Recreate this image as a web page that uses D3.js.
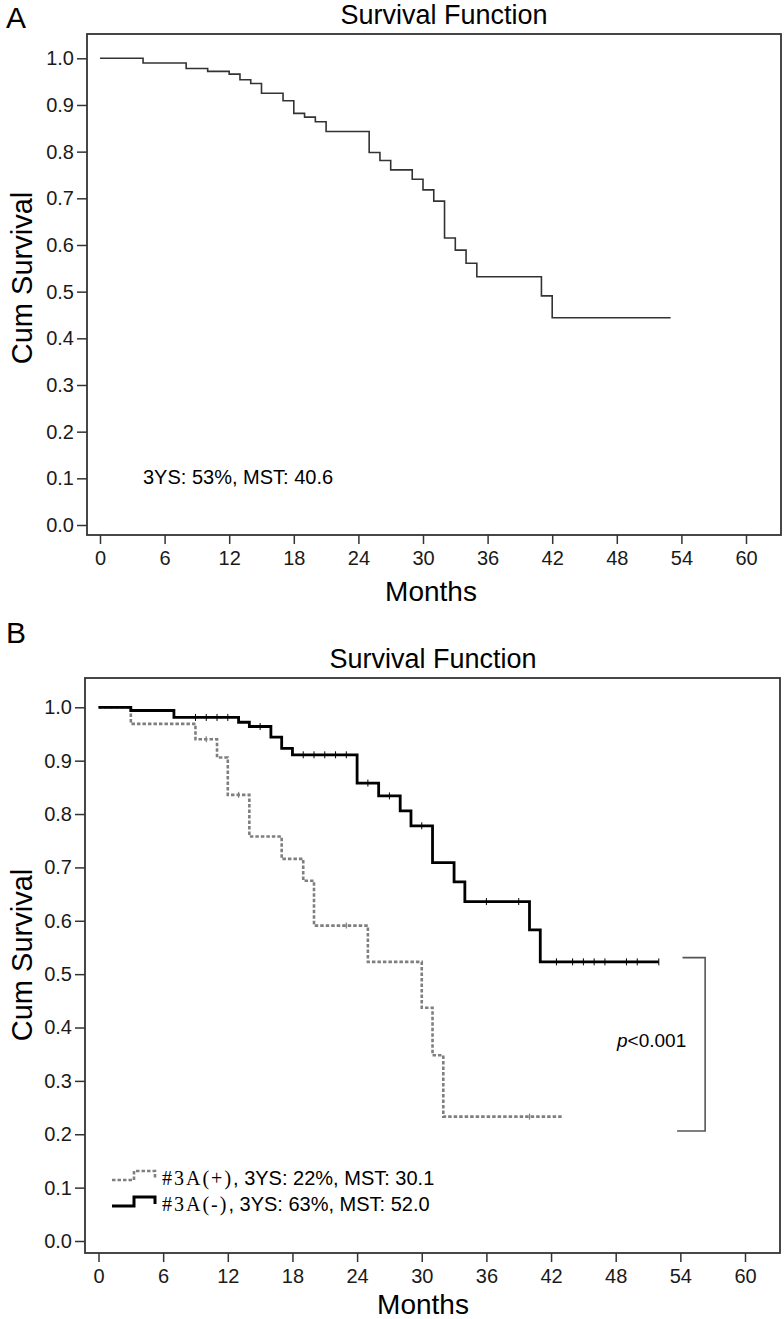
<!DOCTYPE html>
<html>
<head>
<meta charset="utf-8">
<script src="https://cdn.jsdelivr.net/npm/d3@7.9.0/dist/d3.min.js"></script>
<style>
  html, body { margin: 0; padding: 0; background: #fff; }
  svg { display: block; font-family: "Liberation Sans", Arial, sans-serif; }
  .tick text { font-size: 20px; fill: #1a1a1a; }
  .tick line { stroke: #333; stroke-width: 1.5; }
</style>
</head>
<body>
<svg id="chart" width="784" height="1319"></svg>
<script>
// ---- data ----
const monthTicks = [0, 6, 12, 18, 24, 30, 36, 42, 48, 54, 60];
const survTicks  = [0, 0.1, 0.2, 0.3, 0.4, 0.5, 0.6, 0.7, 0.8, 0.9, 1.0];

// panel A: all patients
const monthsA = [0, 4, 8, 10, 12, 13, 14, 15, 17, 18, 19, 20, 21, 25, 26, 27, 29, 30, 31, 32, 33, 34, 35, 41, 42];
const survA   = [1.000, 0.990, 0.978, 0.972, 0.966, 0.954, 0.946, 0.925, 0.909, 0.882, 0.874, 0.864, 0.843,
                 0.798, 0.781, 0.761, 0.741, 0.718, 0.694, 0.615, 0.589, 0.561, 0.532, 0.491, 0.444];
const endA = 53;

// panel B: #3A(-)
const monthsNeg = [0, 3, 7, 13, 14, 16, 17, 18, 24, 26, 28, 29, 31, 33, 34, 40, 41];
const survNeg   = [1.000, 0.994, 0.981, 0.972, 0.964, 0.944, 0.923, 0.911, 0.858, 0.834, 0.806, 0.778,
                   0.709, 0.673, 0.636, 0.583, 0.523];
const censorNeg = [9, 10, 11, 12, 15, 19, 20, 21, 22, 23, 25, 27, 30, 36, 39, 42.5, 44, 45, 46, 47, 49, 50, 52];
const endNeg = 52;

// panel B: #3A(+)
const monthsPos = [0, 3, 9, 11, 12, 14, 17, 19, 20, 25, 30, 31, 32];
const survPos   = [1.000, 0.969, 0.940, 0.906, 0.836, 0.758, 0.716, 0.675, 0.591, 0.523, 0.437, 0.348, 0.233];
const censorPos = [10, 13, 23, 40];
const endPos = 43;

const bracketX = [53.7, 54.2, 56.3];
const bracketY = [0.531, 0.206];

const svg = d3.select('#chart');

function stepPoints(months, surv, end) {
  const pts = months.map((m, i) => [m, surv[i]]);
  pts.push([end, surv[surv.length - 1]]);
  return pts;
}

function survAt(months, surv, t) {
  let s = surv[0];
  months.forEach((m, i) => { if (m <= t) s = surv[i]; });
  return s;
}

function drawPanel(cfg) {
  const { frame, xr, yr } = cfg;
  const x = d3.scaleLinear().domain([0, 60]).range(xr);
  const y = d3.scaleLinear().domain([0, 1]).range(yr);
  const g = svg.append('g');

  // x axis
  g.append('g')
    .attr('transform', `translate(0, ${frame.bottom})`)
    .call(d3.axisBottom(x).tickValues(monthTicks).tickSize(9).tickPadding(7).tickFormat(d3.format('d')))
    .call(a => a.select('.domain').remove());

  // y axis
  g.append('g')
    .attr('transform', `translate(${frame.left}, 0)`)
    .call(d3.axisLeft(y).tickValues(survTicks).tickSize(10).tickPadding(3).tickFormat(d3.format('.1f')))
    .call(a => a.select('.domain').remove());

  // frame
  g.append('rect')
    .attr('x', frame.left).attr('y', frame.top)
    .attr('width', frame.right - frame.left)
    .attr('height', frame.bottom - frame.top)
    .attr('fill', 'none').attr('stroke', '#333').attr('stroke-width', 1.8);

  // panel letter + title
  g.append('text')
    .attr('x', cfg.letterPos[0]).attr('y', cfg.letterPos[1])
    .attr('font-size', 30).text(cfg.letter);
  g.append('text')
    .attr('x', cfg.titleX).attr('y', frame.top - 10)
    .attr('text-anchor', 'middle').attr('font-size', 27)
    .text('Survival Function');

  // axis titles
  g.append('text')
    .attr('transform', `translate(32, ${cfg.ylabY}) rotate(-90)`)
    .attr('text-anchor', 'middle').attr('font-size', 29)
    .text('Cum Survival');
  g.append('text')
    .attr('x', cfg.xlabX).attr('y', cfg.xlabY)
    .attr('text-anchor', 'middle').attr('font-size', 28)
    .text('Months');

  return { g, x, y };
}

const line = (x, y) => d3.line().x(d => x(d[0])).y(d => y(d[1])).curve(d3.curveStepAfter);

// ---- panel A ----
{
  const { g, x, y } = drawPanel({
    frame: { left: 87, top: 34, right: 781, bottom: 535 },
    xr: [100, 746], yr: [525, 58.3],
    letter: 'A', letterPos: [6, 28], titleX: 444,
    ylabY: 278, xlabX: 431, xlabY: 601
  });
  g.append('path')
    .datum(stepPoints(monthsA, survA, endA))
    .attr('d', line(x, y))
    .attr('fill', 'none').attr('stroke', '#333').attr('stroke-width', 1.6);
  g.append('text')
    .attr('x', 143).attr('y', 484).attr('font-size', 20)
    .text('3YS: 53%, MST: 40.6');
}

// ---- panel B ----
{
  const { g, x, y } = drawPanel({
    frame: { left: 85, top: 678, right: 780, bottom: 1253 },
    xr: [98.5, 745], yr: [1241, 707.3],
    letter: 'B', letterPos: [6, 643], titleX: 433,
    ylabY: 955, xlabX: 423, xlabY: 1314
  });

  // #3A(+) dashed grey
  g.append('path')
    .datum(stepPoints(monthsPos, survPos, endPos))
    .attr('d', line(x, y))
    .attr('fill', 'none').attr('stroke', '#7f7f7f').attr('stroke-width', 2.6)
    .attr('stroke-dasharray', '3.5,2');
  g.append('g').selectAll('line')
    .data(censorPos)
    .join('line')
    .attr('x1', d => x(d)).attr('x2', d => x(d))
    .attr('y1', d => y(survAt(monthsPos, survPos, d)) - 3)
    .attr('y2', d => y(survAt(monthsPos, survPos, d)) + 3)
    .attr('stroke', '#7f7f7f').attr('stroke-width', 1.2);

  // #3A(-) solid black
  g.append('path')
    .datum(stepPoints(monthsNeg, survNeg, endNeg))
    .attr('d', line(x, y))
    .attr('fill', 'none').attr('stroke', '#000').attr('stroke-width', 2.8);
  g.append('g').selectAll('line')
    .data(censorNeg)
    .join('line')
    .attr('x1', d => x(d)).attr('x2', d => x(d))
    .attr('y1', d => y(survAt(monthsNeg, survNeg, d)) - 3.5)
    .attr('y2', d => y(survAt(monthsNeg, survNeg, d)) + 3.5)
    .attr('stroke', '#000').attr('stroke-width', 1);

  // p-value bracket
  g.append('path')
    .attr('d', d3.line()([
      [x(bracketX[1]), y(bracketY[0])],
      [x(bracketX[2]), y(bracketY[0])],
      [x(bracketX[2]), y(bracketY[1])],
      [x(bracketX[0]), y(bracketY[1])]
    ]))
    .attr('fill', 'none').attr('stroke', '#555').attr('stroke-width', 1.6);
  const pt = g.append('text').attr('x', 617).attr('y', 1047).attr('font-size', 19);
  pt.append('tspan').attr('font-style', 'italic').text('p');
  pt.append('tspan').text('<0.001');

  // legend
  const legend = [
    { sym: '#3A(+)', rest: ', 3YS: 22%, MST: 30.1', color: '#7f7f7f', dash: '3.5,2', w: 2.6, ly: 1178 },
    { sym: '#3A(-)', rest: ', 3YS: 63%, MST: 52.0', color: '#000', dash: null, w: 3, ly: 1204 }
  ];
  legend.forEach(l => {
    g.append('path')
      .attr('d', d3.line()([[112, l.ly + 2], [134, l.ly + 2], [134, l.ly - 7], [155, l.ly - 7], [155, l.ly]]))
      .attr('fill', 'none').attr('stroke', l.color).attr('stroke-width', l.w)
      .attr('stroke-dasharray', l.dash);
    const t = g.append('text').attr('x', 162).attr('y', l.ly + 7).attr('font-size', 20);
    t.append('tspan').attr('font-family', '"Liberation Serif", serif').attr('letter-spacing', 2).text(l.sym);
    t.append('tspan').text(l.rest);
  });
}
</script>
</body>
</html>
